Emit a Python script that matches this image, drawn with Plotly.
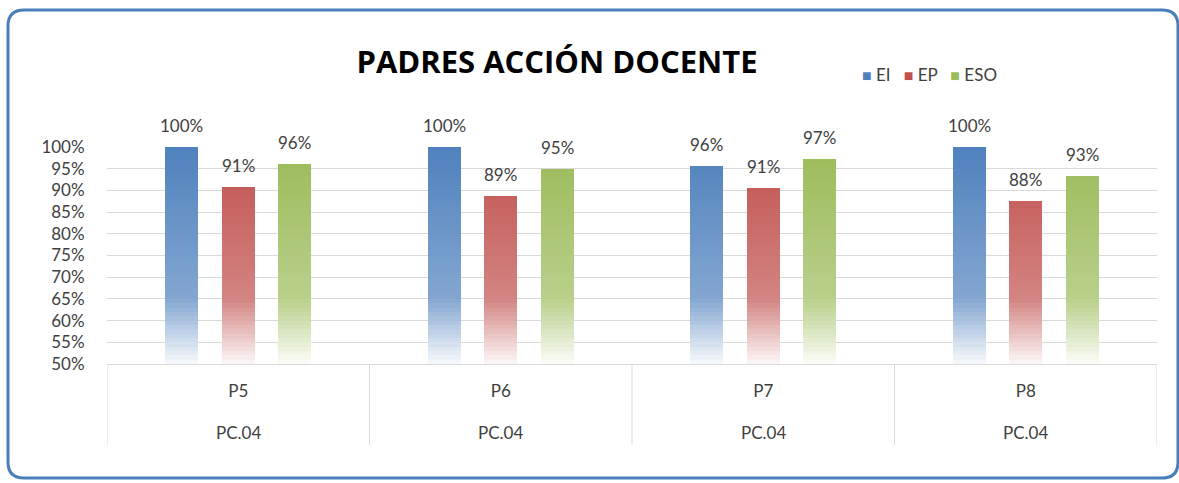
import plotly.graph_objects as go

# ---- data ----
categories = ["P5", "P6", "P7", "P8"]
groups = ["PC.04", "PC.04", "PC.04", "PC.04"]
series_names = ["EI", "EP", "ESO"]
ei_values = [100.0, 100.0, 95.7, 100.0]
ep_values = [90.7, 88.6, 90.6, 87.6]
eso_values = [96.0, 95.0, 97.3, 93.4]
y_ticks = [50, 55, 60, 65, 70, 75, 80, 85, 90, 95, 100]

# ---- style ----
W, H = 1179, 483
ML, MR, MT, MB = 107, 22, 147, 119
PW, PH = W - ML - MR, H - MT - MB
FONT = "Lato"
TXT = "#404040"
colors = ["#4F81BD", "#C0504D", "#9BBB59"]
bar_w = 0.125
centers = [-0.215, 0.0, 0.215]
Y0, Y1 = 50, 100


def hex2rgb(h):
    h = h.lstrip("#")
    return tuple(int(h[i:i + 2], 16) for i in (0, 2, 4))


def mix_white(c, f):
    r, g, b = hex2rgb(c)
    return "rgb(%d,%d,%d)" % (round(r + (255 - r) * f), round(g + (255 - g) * f), round(b + (255 - b) * f))


def white_frac(level):
    if level >= 65:
        return 0.30 * (100 - level) / 35.0
    return 0.30 + 0.66 * (65 - level) / 15.0


fig = go.Figure()
all_vals = [ei_values, ep_values, eso_values]

# base bars
for name, vals, col, c in zip(series_names, all_vals, colors, centers):
    fig.add_trace(go.Bar(
        x=categories, y=[v - Y0 for v in vals], base=Y0,
        name=name, marker=dict(color=col, line=dict(width=0)),
        width=bar_w, offset=c - bar_w / 2, showlegend=False,
        hoverinfo="skip",
    ))

# gradient overlay (1% slices)
for lvl in range(Y0, Y1):
    for name, vals, col, c in zip(series_names, all_vals, colors, centers):
        fig.add_trace(go.Bar(
            x=categories, y=[max(0.0, min(1.0, v - lvl)) for v in vals], base=lvl,
            marker=dict(color=mix_white(col, white_frac(lvl + 0.5)), line=dict(width=0)),
            width=bar_w, offset=c - bar_w / 2, showlegend=False,
            hoverinfo="skip",
        ))


def px(x):
    return (x - ML) / PW


def py(y):
    return (MT + PH - y) / PH


shapes = []
# category table separators
tbl_h = 81
for i in range(len(categories) + 1):
    shapes.append(dict(type="line", xref="x", yref="paper", x0=i - 0.5, x1=i - 0.5,
                       y0=0, y1=-tbl_h / PH, line=dict(color="#d9d9d9", width=1)))

# rounded outer border
x0, x1, y0, y1, r = 8, 1178, 10, 478, 16
path = ("M {a},{b} L {c},{b} Q {d},{b} {d},{e} L {d},{f} Q {d},{g} {c},{g} "
        "L {a},{g} Q {h},{g} {h},{f} L {h},{e} Q {h},{b} {a},{b} Z").format(
    a=px(x0 + r), b=py(y0), c=px(x1 - r), d=px(x1), e=py(y0 + r), f=py(y1 - r),
    g=py(y1), h=px(x0))
shapes.append(dict(type="path", xref="paper", yref="paper", path=path,
                   line=dict(color="#4A7EBB", width=3)))

annotations = []
# value labels
cat_px = PW / len(categories)
for vals, c in zip(all_vals, centers):
    for cat, v in zip(categories, vals):
        annotations.append(dict(x=cat, xref="x", y=v, yref="y", text="%d%%" % round(v),
                                xshift=c * cat_px, yshift=9, yanchor="bottom",
                                showarrow=False,
                                font=dict(family=FONT, size=17, color=TXT)))
# second row of category table
for cat, grp in zip(categories, groups):
    annotations.append(dict(x=cat, xref="x", y=-68 / PH, yref="paper", text=grp,
                            showarrow=False, yanchor="middle",
                            font=dict(family=FONT, size=17, color=TXT)))
# legend
sep = "&nbsp;&nbsp;&nbsp;"
legend_txt = sep.join("<span style='color:%s;font-size:16px'>■</span>&nbsp;%s" % (col, name)
                      for name, col in zip(series_names, colors))
annotations.append(dict(x=px(860), xref="paper", y=py(74), yref="paper", text=legend_txt,
                        xanchor="left", yanchor="middle", showarrow=False,
                        font=dict(family=FONT, size=17, color=TXT)))

fig.update_layout(
    width=W, height=H,
    margin=dict(l=ML, r=MR, t=MT, b=MB),
    paper_bgcolor="white", plot_bgcolor="white",
    barmode="overlay", showlegend=False,
    title=dict(text="<b>PADRES ACCIÓN DOCENTE</b>", x=557 / W, xanchor="center",
               y=1 - 62 / H, yanchor="middle",
               font=dict(family="Open Sans", size=31, color="#000000")),
    xaxis=dict(type="category", categoryorder="array", categoryarray=categories,
               range=[-0.5, len(categories) - 0.5],
               showline=True, linecolor="#d9d9d9", linewidth=1,
               showgrid=False, ticks="outside", ticklen=12, tickcolor="rgba(0,0,0,0)",
               tickfont=dict(family=FONT, size=17, color=TXT), zeroline=False),
    yaxis=dict(range=[Y0, Y1], tickvals=y_ticks, ticktext=["%d%%" % t for t in y_ticks],
               showgrid=True, gridcolor="#d9d9d9", gridwidth=1, zeroline=False,
               showline=False, ticks="outside", ticklen=18, tickcolor="rgba(0,0,0,0)",
               tickfont=dict(family=FONT, size=17, color=TXT)),
    shapes=shapes, annotations=annotations,
    bargap=0,
)

fig.write_html("out.html", config={"displayModeBar": False},
               post_script="document.body.style.margin='0px';")
